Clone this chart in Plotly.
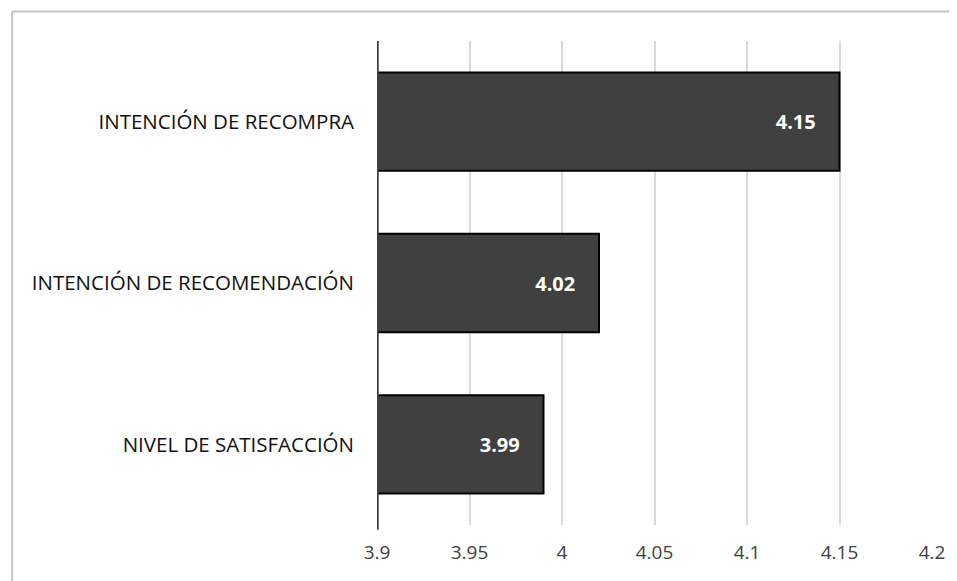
import plotly.graph_objects as go

categories = ["NIVEL DE SATISFACCIÓN", "INTENCIÓN DE RECOMENDACIÓN", "INTENCIÓN DE RECOMPRA"]
values = [3.99, 4.02, 4.15]
axis_min = 3.9
tick_vals = [3.9, 3.95, 4.0, 4.05, 4.1, 4.15, 4.2]
tick_text = ["3.9", "3.95", "4", "4.05", "4.1", "4.15", "4.2"]

OFF = 8  # page body margin
W, H = 957 - OFF, 581 - OFF
L, T = 377 - OFF, 41 - OFF
R = W - (936 - OFF)
B = H - (525 - OFF)
pw, ph = W - L - R, H - T - B

fig = go.Figure(go.Bar(
    y=categories, x=[v - axis_min for v in values], base=axis_min, orientation="h",
    marker=dict(color="#404040", line=dict(color="#000000", width=2)),
    width=0.61,
    text=[f"{v:.2f}" for v in values], textposition="inside", insidetextanchor="end",
    textfont=dict(color="white", size=20, family="Open Sans"),
    texttemplate="<b>%{text}</b>    ",
    hoverinfo="skip",
))

bx = (9.5 - OFF - L) / pw
by = 1 + (T - (11.5 - OFF)) / ph
fig.update_layout(
    width=W, height=H,
    margin=dict(l=L, r=R, t=T, b=B),
    paper_bgcolor="white", plot_bgcolor="white",
    showlegend=False,
    font=dict(family="Open Sans", color="#000000"),
    xaxis=dict(range=[3.9, 4.2], tickvals=tick_vals, ticktext=tick_text,
               showgrid=True, gridcolor="#d9d9d9", gridwidth=1.5,
               zeroline=False, showline=False, ticks="", ticklabelstandoff=14,
               tickfont=dict(size=19, color="#404040", family="Open Sans")),
    yaxis=dict(range=[-0.5, 2.5], showgrid=False, zeroline=False,
               showline=False, ticks="", ticklabelstandoff=22,
               tickfont=dict(size=20.5, color="#111111", family="Open Sans")),
    shapes=[
        dict(type="line", xref="x", yref="paper", x0=3.9, x1=3.9, y0=-0.01, y1=1,
             line=dict(color="#404040", width=3.5), layer="above"),
        dict(type="line", xref="paper", yref="paper",
             x0=bx, x1=(W + 5 - L) / pw, y0=by, y1=by,
             line=dict(color="#c4c4c4", width=2)),
        dict(type="line", xref="paper", yref="paper",
             x0=bx, x1=bx, y0=by, y1=-(B + 5) / ph,
             line=dict(color="#c4c4c4", width=2)),
    ],
)
fig.write_html("out.html")
